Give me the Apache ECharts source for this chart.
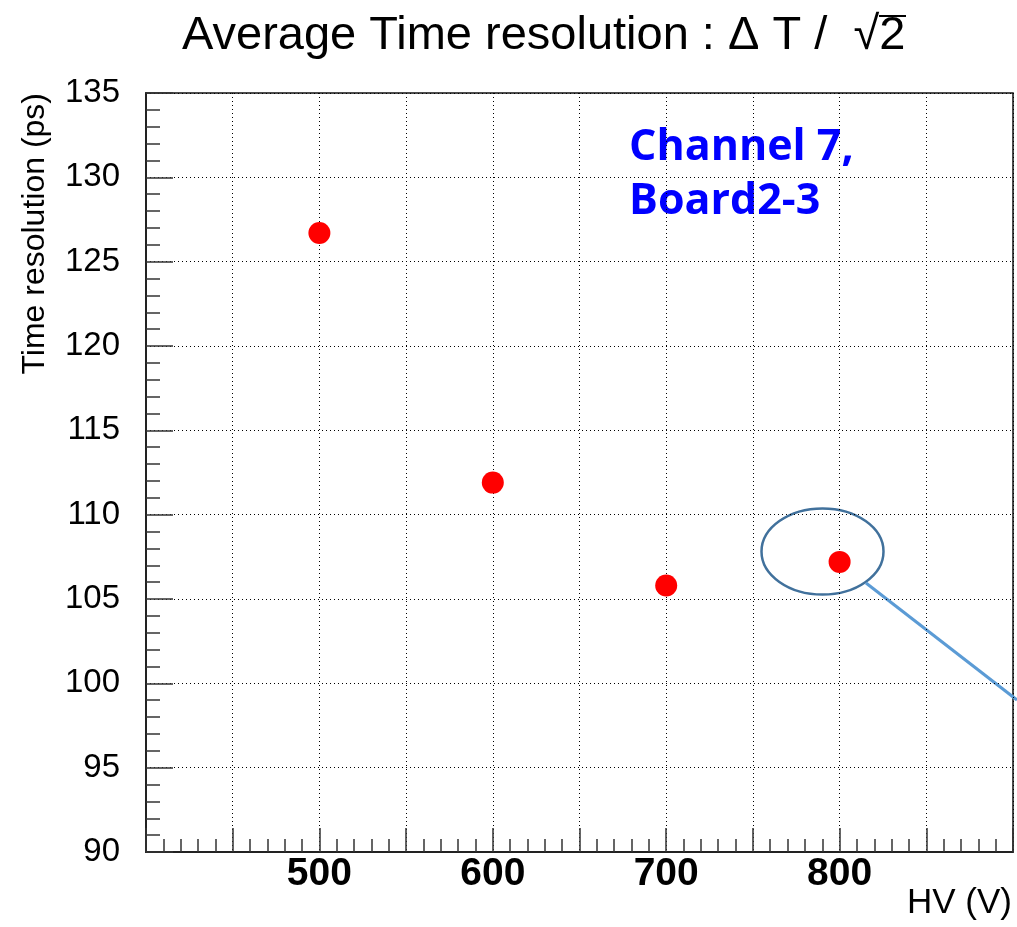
<!DOCTYPE html>
<html>
<head>
<meta charset="utf-8">
<script src="https://cdn.jsdelivr.net/npm/echarts@6/dist/echarts.min.js"></script>
<style>
  html, body { margin: 0; padding: 0; background: #fff; }
  #main { width: 1017px; height: 927px; }
</style>
</head>
<body>
<div id="main"></div>
<script>
  // HV (V) and measured average time resolution (ps)
  var hvValues = [500, 600, 700, 800]
  var timeRes = [126.7, 111.9, 105.8, 107.2]
  var xTickLabels = [500, 600, 700, 800]
  var chartTitle = 'Average Time resolution : \u0394 T /  \u221A2'
  var noteLines = ['Channel 7,', 'Board2-3']

  var dom = echarts.init(document.getElementById('main'))

  var points = hvValues.map(function (v, i) { return [v, timeRes[i]] })

  var option = {
    animation: false,
    title: {
      text: chartTitle,
      left: 177,
      top: 8,
      textStyle: {
        fontFamily: 'Liberation Sans',
        fontSize: 47,
        fontWeight: 'normal',
        color: '#000'
      }
    },
    grid: {
      left: 146,
      right: 4,
      top: 93,
      bottom: 75,
      show: true,
      borderColor: '#111',
      borderWidth: 1.5,
      backgroundColor: 'transparent'
    },
    xAxis: {
      type: 'value',
      min: 400,
      max: 900,
      interval: 50,
      axisLine: { lineStyle: { color: '#222', width: 2 } },
      axisTick: { inside: true, length: 24, lineStyle: { color: '#333', width: 1.5 } },
      minorTick: { show: true, splitNumber: 5, length: 13, lineStyle: { color: '#333', width: 1.5 } },
      splitLine: { show: true, lineStyle: { color: '#000', width: 1, type: [1, 3] } },
      axisLabel: {
        margin: 3,
        fontFamily: 'Liberation Sans',
        fontSize: 39,
        fontWeight: 'bold',
        color: '#000',
        formatter: function (v) {
          return xTickLabels.indexOf(v) >= 0 ? String(v) : ''
        }
      }
    },
    yAxis: {
      type: 'value',
      min: 90,
      max: 135,
      interval: 5,
      axisLine: { show: true, lineStyle: { color: '#222', width: 2 } },
      axisTick: { show: true, inside: true, length: 27, lineStyle: { color: '#333', width: 1.5 } },
      minorTick: { show: true, splitNumber: 5, length: 14, lineStyle: { color: '#333', width: 1.5 } },
      splitLine: { show: true, lineStyle: { color: '#000', width: 1, type: [1, 3] } },
      axisLabel: {
        margin: 26,
        fontFamily: 'Liberation Sans',
        fontSize: 33,
        color: '#000'
      }
    },
    series: [
      {
        type: 'scatter',
        data: points,
        symbol: 'circle',
        symbolSize: 22,
        itemStyle: { color: '#ff0000', opacity: 1 }
      }
    ],
    graphic: [
      // overbar of the square root in the title
      {
        type: 'line',
        shape: { x1: 879, y1: 16, x2: 906, y2: 16 },
        style: { stroke: '#000', lineWidth: 2 }
      },
      {
        type: 'text',
        x: 35,
        y: 93,
        rotation: Math.PI / 2,
        style: {
          text: 'Time resolution (ps)',
          fontFamily: 'Liberation Sans',
          fontSize: 32,
          fill: '#000',
          align: 'right',
          verticalAlign: 'middle'
        }
      },
      {
        type: 'text',
        x: 1012,
        y: 886,
        style: {
          text: 'HV (V)',
          fontFamily: 'Liberation Sans',
          fontSize: 35,
          fill: '#000',
          align: 'right',
          verticalAlign: 'top'
        }
      },
      {
        type: 'text',
        x: 629,
        y: 121,
        style: {
          text: noteLines.join('\n'),
          fontFamily: 'Open Sans',
          fontSize: 43,
          fontWeight: 'bold',
          lineHeight: 54,
          fill: '#0000ff'
        }
      },
      // callout around the 800 V point
      {
        type: 'ellipse',
        shape: { cx: 822.5, cy: 551.5, rx: 61, ry: 43 },
        style: { fill: 'none', stroke: '#41719c', lineWidth: 2.5 }
      },
      {
        type: 'line',
        shape: { x1: 866, y1: 583, x2: 1017, y2: 700 },
        style: { stroke: '#5b9bd5', lineWidth: 3 }
      }
    ]
  }

  dom.setOption(option)
  window.addEventListener('resize', function () { dom.resize() })
</script>
</body>
</html>
